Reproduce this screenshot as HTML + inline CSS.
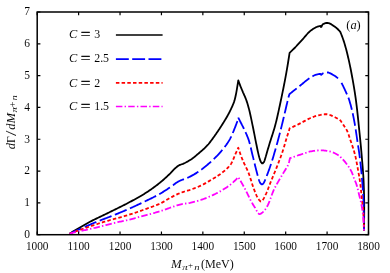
<!DOCTYPE html>
<html><head><meta charset="utf-8"><title>plot</title>
<style>
html,body{margin:0;padding:0;background:#fff;}
body{width:390px;height:273px;overflow:hidden;position:relative;font-family:"Liberation Serif",serif;}
</style></head><body>
<svg width="390" height="273" viewBox="0 0 390 273" style="position:absolute;left:0;top:0;will-change:transform;opacity:0.999">
<rect x="0" y="0" width="390" height="273" fill="#fff"/>
<path d="M69.60 233.80L70.43 233.23L71.27 232.67L72.12 232.13L72.97 231.59L73.84 231.07L74.70 230.56L75.57 230.05L76.45 229.54L77.32 229.04L78.19 228.54L79.06 228.03L79.94 227.52L80.81 227.01L81.68 226.50L82.55 225.99L83.42 225.49L84.29 224.98L85.17 224.48L86.04 223.98L86.92 223.48L87.80 222.99L88.68 222.51L89.57 222.03L90.46 221.56L91.35 221.09L92.25 220.63L93.14 220.17L94.04 219.72L94.94 219.27L95.85 218.82L96.75 218.38L97.66 217.94L98.57 217.50L99.48 217.07L100.39 216.63L101.30 216.20L102.21 215.76L103.12 215.33L104.03 214.89L104.94 214.46L105.85 214.02L106.76 213.59L107.67 213.15L108.57 212.70L109.48 212.26L110.38 211.81L111.28 211.36L112.19 210.92L113.09 210.47L114.00 210.03L114.90 209.58L115.81 209.14L116.71 208.69L117.62 208.25L118.52 207.80L119.42 207.35L120.33 206.91L121.23 206.46L122.13 206.00L123.03 205.55L123.93 205.10L124.83 204.64L125.73 204.18L126.62 203.72L127.51 203.25L128.41 202.78L129.30 202.31L130.18 201.83L131.07 201.36L131.96 200.88L132.85 200.40L133.74 199.92L134.62 199.44L135.51 198.95L136.39 198.47L137.28 197.97L138.16 197.48L139.03 196.98L139.91 196.48L140.78 195.97L141.65 195.46L142.51 194.94L143.37 194.42L144.22 193.89L145.08 193.35L145.92 192.81L146.77 192.26L147.61 191.71L148.45 191.15L149.29 190.59L150.12 190.02L150.95 189.45L151.78 188.87L152.60 188.28L153.42 187.69L154.24 187.09L155.05 186.49L155.86 185.89L156.66 185.28L157.46 184.67L158.26 184.05L159.04 183.42L159.83 182.80L160.60 182.16L161.38 181.51L162.14 180.86L162.90 180.20L163.66 179.53L164.42 178.86L165.16 178.18L165.91 177.49L166.65 176.81L167.39 176.12L168.12 175.43L168.85 174.73L169.58 174.03L170.29 173.32L170.98 172.59L171.67 171.85L172.36 171.11L173.06 170.37L173.76 169.65L174.48 168.94L175.21 168.26L175.97 167.60L176.74 166.93L177.54 166.28L178.36 165.69L179.21 165.20L180.12 164.81L181.08 164.49L182.06 164.18L183.01 163.84L183.93 163.44L184.84 163.01L185.74 162.56L186.64 162.08L187.53 161.59L188.41 161.09L189.27 160.57L190.13 160.03L190.97 159.49L191.79 158.93L192.61 158.34L193.41 157.74L194.21 157.11L194.99 156.47L195.77 155.83L196.54 155.17L197.31 154.51L198.08 153.86L198.85 153.20L199.62 152.55L200.38 151.89L201.15 151.23L201.91 150.57L202.67 149.90L203.43 149.22L204.17 148.54L204.91 147.85L205.63 147.15L206.34 146.43L207.04 145.71L207.72 144.98L208.38 144.23L209.02 143.45L209.65 142.66L210.26 141.85L210.87 141.05L211.47 140.24L212.07 139.43L212.67 138.62L213.26 137.80L213.85 136.99L214.44 136.17L215.03 135.34L215.61 134.52L216.19 133.69L216.76 132.86L217.33 132.03L217.90 131.20L218.47 130.36L219.03 129.52L219.59 128.68L220.14 127.84L220.69 126.99L221.23 126.14L221.77 125.29L222.31 124.44L222.84 123.59L223.38 122.73L223.91 121.88L224.43 121.02L224.96 120.15L225.48 119.29L226.00 118.42L226.52 117.55L227.02 116.68L227.53 115.80L228.02 114.92L228.50 114.03L228.97 113.14L229.43 112.25L229.88 111.35L230.32 110.45L230.75 109.54L231.19 108.63L231.62 107.71L232.04 106.79L232.46 105.86L232.86 104.93L233.24 104.00L233.61 103.05L233.96 102.11L234.28 101.16L234.57 100.20L234.84 99.24L235.09 98.27L235.32 97.29L235.54 96.30L235.75 95.31L235.95 94.32L236.14 93.33L236.33 92.34L236.51 91.34L236.69 90.35L236.85 89.36L237.02 88.36L237.18 87.37L237.34 86.37L237.50 85.38L237.66 84.38L237.83 83.39L237.99 82.39L238.14 81.40L238.30 80.40L238.64 81.35L238.98 82.29L239.33 83.24L239.68 84.18L240.04 85.12L240.40 86.06L240.77 86.99L241.15 87.92L241.54 88.85L241.92 89.78L242.31 90.71L242.70 91.63L243.09 92.56L243.50 93.48L243.91 94.40L244.32 95.32L244.73 96.24L245.13 97.17L245.53 98.09L245.90 99.02L246.25 99.96L246.58 100.91L246.90 101.86L247.21 102.82L247.51 103.78L247.80 104.74L248.08 105.71L248.35 106.68L248.62 107.65L248.88 108.62L249.13 109.60L249.37 110.57L249.61 111.55L249.84 112.52L250.06 113.50L250.29 114.48L250.50 115.47L250.72 116.45L250.93 117.43L251.13 118.42L251.34 119.40L251.55 120.39L251.75 121.38L251.96 122.36L252.16 123.34L252.37 124.33L252.57 125.31L252.78 126.30L252.98 127.28L253.18 128.27L253.38 129.26L253.57 130.24L253.77 131.23L253.96 132.21L254.15 133.20L254.35 134.19L254.54 135.18L254.73 136.16L254.93 137.15L255.12 138.14L255.31 139.12L255.51 140.11L255.71 141.10L255.90 142.08L256.10 143.07L256.30 144.05L256.51 145.04L256.71 146.02L256.91 147.01L257.11 148.00L257.31 148.98L257.52 149.97L257.72 150.95L257.93 151.93L258.15 152.92L258.38 153.89L258.62 154.87L258.86 155.85L259.12 156.82L259.39 157.79L259.69 158.75L260.00 159.71L260.33 160.69L260.72 161.64L261.22 162.46L262.00 163.25L262.81 163.25L263.61 162.47L264.11 161.66L264.50 160.74L264.82 159.75L265.12 158.75L265.42 157.79L265.71 156.83L265.97 155.86L266.24 154.89L266.51 153.92L266.79 152.95L267.07 151.99L267.35 151.02L267.64 150.06L267.92 149.09L268.21 148.13L268.50 147.17L268.79 146.20L269.08 145.24L269.37 144.28L269.66 143.31L269.95 142.35L270.25 141.39L270.55 140.43L270.86 139.47L271.16 138.51L271.47 137.56L271.78 136.60L272.09 135.64L272.40 134.68L272.71 133.72L273.01 132.76L273.32 131.81L273.61 130.85L273.91 129.88L274.20 128.92L274.48 127.96L274.76 126.99L275.02 126.02L275.29 125.05L275.54 124.08L275.79 123.11L276.03 122.14L276.28 121.16L276.51 120.18L276.75 119.21L276.98 118.23L277.21 117.25L277.43 116.27L277.65 115.29L277.87 114.30L278.09 113.32L278.31 112.34L278.52 111.36L278.74 110.37L278.95 109.39L279.16 108.40L279.37 107.42L279.58 106.44L279.80 105.45L280.01 104.47L280.22 103.49L280.43 102.50L280.64 101.52L280.85 100.54L281.05 99.55L281.26 98.57L281.47 97.58L281.67 96.60L281.88 95.62L282.08 94.63L282.28 93.65L282.49 92.66L282.69 91.67L282.89 90.69L283.09 89.70L283.29 88.72L283.48 87.73L283.68 86.74L283.87 85.76L284.07 84.77L284.26 83.78L284.45 82.80L284.64 81.81L284.83 80.82L285.02 79.83L285.21 78.85L285.40 77.86L285.58 76.87L285.76 75.88L285.95 74.89L286.13 73.90L286.31 72.91L286.48 71.92L286.66 70.93L286.83 69.94L287.00 68.95L287.17 67.96L287.34 66.97L287.51 65.98L287.67 64.98L287.84 63.99L288.00 63.00L289.60 52.80L290.37 52.09L291.13 51.38L291.89 50.67L292.64 49.94L293.38 49.22L294.12 48.49L294.86 47.75L295.58 47.00L296.30 46.25L297.01 45.48L297.71 44.72L298.41 43.94L299.11 43.17L299.80 42.39L300.50 41.62L301.20 40.84L301.90 40.07L302.60 39.31L303.31 38.53L304.00 37.74L304.69 36.94L305.37 36.13L306.06 35.32L306.75 34.52L307.45 33.74L308.16 32.97L308.89 32.24L309.64 31.55L310.42 30.90L311.22 30.29L312.06 29.68L312.93 29.07L313.82 28.49L314.73 27.93L315.67 27.42L316.62 26.97L317.58 26.59L318.55 26.29L319.56 26.06L320.60 25.90L321.07 27.03L321.53 26.73L321.98 25.54L322.53 24.58L323.31 24.06L324.29 23.60L325.38 23.22L326.48 22.98L327.51 22.90L328.48 23.04L329.46 23.37L330.44 23.84L331.39 24.40L332.33 25.02L333.23 25.63L334.10 26.19L334.94 26.78L335.77 27.41L336.58 28.07L337.36 28.77L338.13 29.50L338.88 30.27L339.60 31.07L340.30 31.90L340.68 32.84L341.06 33.77L341.44 34.72L341.80 35.66L342.16 36.60L342.51 37.55L342.86 38.50L343.19 39.45L343.52 40.40L343.83 41.36L344.14 42.32L344.44 43.28L344.73 44.25L345.01 45.21L345.29 46.18L345.57 47.16L345.83 48.13L346.10 49.11L346.36 50.08L346.61 51.06L346.86 52.04L347.11 53.02L347.35 54.00L347.59 54.99L347.82 55.97L348.05 56.95L348.28 57.93L348.51 58.91L348.73 59.90L348.95 60.88L349.17 61.87L349.38 62.86L349.59 63.84L349.80 64.83L350.01 65.82L350.21 66.81L350.41 67.80L350.61 68.79L350.81 69.78L351.00 70.77L351.19 71.76L351.38 72.76L351.57 73.75L351.75 74.74L351.94 75.73L352.12 76.73L352.30 77.72L352.48 78.71L352.66 79.71L352.84 80.70L353.01 81.69L353.19 82.69L353.36 83.68L353.53 84.68L353.70 85.67L353.87 86.67L354.04 87.67L354.20 88.66L354.36 89.66L354.52 90.66L354.68 91.65L354.84 92.65L354.99 93.65L355.14 94.65L355.29 95.65L355.43 96.65L355.58 97.65L355.72 98.64L355.85 99.64L355.99 100.64L356.12 101.64L356.24 102.64L356.37 103.65L356.49 104.65L356.62 105.65L356.74 106.65L356.86 107.65L356.97 108.66L357.09 109.66L357.20 110.66L357.31 111.67L357.42 112.67L357.53 113.67L357.64 114.68L357.75 115.68L357.86 116.69L357.96 117.69L358.07 118.69L358.17 119.70L358.28 120.70L358.38 121.71L358.49 122.71L358.59 123.72L358.69 124.72L358.80 125.73L358.90 126.73L359.00 127.73L359.11 128.74L359.21 129.74L359.32 130.75L359.42 131.75L359.52 132.76L359.63 133.76L359.73 134.76L359.83 135.77L359.93 136.77L360.03 137.78L360.14 138.78L360.24 139.79L360.34 140.79L360.43 141.80L360.53 142.80L360.63 143.81L360.73 144.81L360.82 145.82L360.92 146.82L361.01 147.83L361.10 148.83L361.19 149.84L361.28 150.84L361.37 151.85L361.46 152.85L361.55 153.86L361.63 154.87L361.71 155.87L361.80 156.88L361.88 157.88L361.97 158.89L362.05 159.90L362.14 160.90L362.22 161.91L362.31 162.92L362.39 163.92L362.48 164.93L362.56 165.93L362.65 166.94L362.73 167.95L362.81 168.96L362.89 169.96L362.96 170.97L363.04 171.98L363.11 172.98L363.18 173.99L363.25 175.00L363.32 176.01L363.38 177.01L363.44 178.02L363.49 179.03L363.54 180.04L363.59 181.04L363.64 182.05L363.68 183.06L363.71 184.07L363.75 185.08L363.78 186.08L363.82 187.09L363.85 188.10L363.88 189.11L363.92 190.12L363.95 191.13L363.98 192.14L364.01 193.15L364.04 194.16L364.06 195.17L364.09 196.18L364.11 197.19L364.13 198.20L364.15 199.21L364.16 200.22L364.18 201.23L364.19 202.23L364.19 203.24L364.20 204.25L364.20 205.26L364.20 206.27L364.20 207.28L364.20 208.29L364.20 209.30L364.19 210.31L364.19 211.32L364.19 212.33L364.18 213.34L364.18 214.35L364.17 215.36L364.16 216.37L364.15 217.38L364.14 218.39L364.13 219.40L364.12 220.40L364.10 221.41L364.09 222.42L364.07 223.43L364.05 224.44L364.03 225.45L364.01 226.46L363.98 227.47L363.96 228.48L363.93 229.49L363.90 230.50" fill="none" stroke="#000" stroke-width="1.8" stroke-linejoin="round"/>
<path d="M69.60 233.80L70.50 233.34L71.40 232.89L72.30 232.46L73.21 232.03L74.12 231.61L75.04 231.19L75.96 230.78L76.88 230.37L77.80 229.97L78.72 229.56L79.64 229.16L80.56 228.75L81.48 228.35L82.40 227.95L83.32 227.54L84.24 227.14L85.16 226.73L86.09 226.33L87.01 225.93L87.93 225.53L88.85 225.13L89.78 224.73L90.70 224.34L91.63 223.94L92.55 223.55L93.48 223.16L94.41 222.77L95.34 222.38L96.26 222.00L97.19 221.61L98.13 221.23L99.06 220.86L99.99 220.48L100.93 220.12L101.86 219.75L102.80 219.40L103.74 219.04L104.69 218.69L105.63 218.34L106.57 217.99L107.52 217.64L108.46 217.28L109.40 216.93L110.33 216.56L111.27 216.19L112.20 215.82L113.14 215.45L114.07 215.07L115.00 214.70L115.93 214.32L116.87 213.94L117.80 213.56L118.73 213.18L119.66 212.79L120.58 212.40L121.51 212.02L122.44 211.63L123.37 211.23L124.29 210.84L125.22 210.44L126.14 210.05L127.06 209.65L127.98 209.25L128.90 208.84L129.82 208.44L130.74 208.03L131.66 207.62L132.58 207.21L133.49 206.79L134.41 206.37L135.32 205.95L136.24 205.53L137.15 205.11L138.06 204.69L138.97 204.26L139.88 203.83L140.79 203.40L141.70 202.97L142.61 202.53L143.51 202.10L144.42 201.66L145.32 201.23L146.23 200.79L147.13 200.35L148.04 199.91L148.95 199.47L149.85 199.03L150.76 198.59L151.66 198.14L152.56 197.70L153.46 197.25L154.36 196.79L155.26 196.33L156.15 195.87L157.03 195.40L157.92 194.92L158.79 194.43L159.66 193.93L160.53 193.43L161.40 192.92L162.26 192.40L163.12 191.88L163.97 191.35L164.82 190.81L165.67 190.27L166.52 189.72L167.36 189.16L168.20 188.61L169.03 188.05L169.87 187.48L170.70 186.91L171.52 186.34L172.35 185.77L173.16 185.17L173.95 184.55L174.75 183.92L175.54 183.31L176.36 182.72L177.20 182.18L178.07 181.67L178.96 181.20L179.86 180.76L180.78 180.36L181.72 180.00L182.67 179.66L183.62 179.33L184.58 179.00L185.52 178.66L186.46 178.29L187.37 177.89L188.28 177.47L189.19 177.03L190.09 176.58L190.99 176.12L191.88 175.65L192.77 175.16L193.64 174.66L194.52 174.15L195.38 173.64L196.24 173.11L197.08 172.58L197.92 172.04L198.76 171.48L199.58 170.91L200.40 170.33L201.22 169.73L202.03 169.13L202.83 168.51L203.62 167.89L204.41 167.26L205.19 166.63L205.97 165.99L206.74 165.35L207.51 164.71L208.27 164.05L209.04 163.40L209.80 162.73L210.55 162.06L211.31 161.39L212.05 160.71L212.80 160.02L213.53 159.33L214.26 158.63L214.98 157.92L215.70 157.21L216.41 156.50L217.10 155.77L217.79 155.05L218.47 154.31L219.14 153.57L219.80 152.83L220.46 152.07L221.12 151.31L221.77 150.54L222.42 149.77L223.07 148.98L223.71 148.19L224.34 147.40L224.97 146.59L225.58 145.78L226.18 144.97L226.76 144.14L227.34 143.31L227.89 142.48L228.43 141.63L228.96 140.78L229.46 139.93L229.94 139.07L230.40 138.19L230.85 137.30L231.29 136.40L231.71 135.49L232.12 134.57L232.52 133.64L232.91 132.70L233.30 131.77L233.68 130.83L234.06 129.89L234.43 128.95L234.80 128.01L235.17 127.07L235.54 126.14L235.91 125.20L236.27 124.26L236.61 123.31L236.93 122.36L237.23 121.40L237.50 120.44L237.75 119.47L237.99 118.49L238.20 117.50" fill="none" stroke="#0000ff" stroke-width="1.8" stroke-linejoin="round" stroke-dasharray="12.7 3.6" stroke-dashoffset="16.03"/>
<path d="M238.20 117.50L238.66 118.40L239.12 119.29L239.57 120.19L240.03 121.09L240.49 121.98L240.94 122.88L241.40 123.78L241.85 124.68L242.32 125.57L242.77 126.47L243.23 127.37L243.68 128.27L244.11 129.17L244.54 130.08L244.96 131.00L245.38 131.91L245.80 132.83L246.22 133.75L246.63 134.68L247.03 135.60L247.42 136.53L247.79 137.47L248.15 138.41L248.48 139.35L248.80 140.30L249.09 141.25L249.37 142.22L249.64 143.18L249.90 144.15L250.15 145.13L250.40 146.10L250.63 147.08L250.87 148.06L251.10 149.05L251.32 150.03L251.55 151.02L251.78 152.00L252.01 152.98L252.24 153.96L252.49 154.94L252.73 155.92L252.98 156.90L253.22 157.87L253.46 158.85L253.70 159.83L253.94 160.81L254.17 161.78L254.41 162.76L254.65 163.74L254.89 164.72L255.13 165.70L255.37 166.67L255.61 167.65L255.86 168.63L256.10 169.60L256.35 170.58L256.61 171.55L256.86 172.53L257.12 173.50L257.39 174.47L257.65 175.44L257.92 176.41L258.19 177.38L258.46 178.36L258.74 179.33L259.06 180.28L259.41 181.22L259.80 182.17L260.28 183.07L260.91 183.83L261.79 184.39L262.69 184.05L263.42 183.35L263.96 182.50L264.42 181.57L264.85 180.66L265.24 179.73L265.61 178.79L265.98 177.86L266.34 176.92L266.71 175.98L267.07 175.04L267.43 174.10L267.79 173.16L268.14 172.22L268.49 171.27L268.83 170.33L269.18 169.38L269.51 168.43L269.85 167.48L270.18 166.53L270.50 165.58L270.83 164.63L271.14 163.67L271.46 162.72L271.76 161.76L272.07 160.80L272.37 159.84L272.66 158.88L272.95 157.91L273.24 156.95L273.53 155.98L273.81 155.02L274.09 154.05L274.37 153.08L274.65 152.12L274.93 151.15L275.21 150.18L275.48 149.21L275.76 148.24L276.03 147.28L276.31 146.31L276.58 145.34L276.85 144.37L277.12 143.40L277.39 142.43L277.66 141.46L277.92 140.49L278.19 139.52L278.45 138.55L278.71 137.57L278.97 136.60L279.23 135.63L279.48 134.65L279.73 133.68L279.99 132.71L280.23 131.73L280.48 130.75L280.72 129.78L280.97 128.80L281.21 127.82L281.45 126.85L281.69 125.87L281.93 124.89L282.17 123.91L282.40 122.94L282.64 121.96L282.87 120.98L283.11 120.00L283.34 119.02L283.57 118.04L283.81 117.06L284.04 116.08L284.27 115.10L284.50 114.12L284.73 113.14L284.96 112.16L285.19 111.18L285.42 110.20L285.65 109.22L285.88 108.24L286.11 107.26L286.34 106.28L286.57 105.31L286.81 104.33L287.04 103.35L287.27 102.37L287.51 101.39L287.75 100.41L287.98 99.43L288.22 98.46L288.46 97.48L288.70 96.50L289.40 94.20L290.21 93.54L291.03 92.88L291.85 92.22L292.66 91.57L293.48 90.91L294.30 90.26L295.12 89.60L295.94 88.95L296.76 88.30L297.58 87.65L298.40 87.00L299.22 86.35L300.05 85.70L300.87 85.05L301.68 84.39L302.50 83.71L303.31 83.04L304.12 82.36L304.93 81.68L305.74 81.02L306.57 80.36L307.40 79.72L308.24 79.10L309.09 78.51L309.95 77.94L310.84 77.40L311.74 76.84L312.65 76.29L313.58 75.76L314.53 75.28L315.49 74.87L316.47 74.56L317.47 74.33L318.49 74.14L319.54 73.99L320.60 73.90L321.14 74.89L321.83 74.30L322.66 73.52L323.61 73.11L324.66 72.75L325.74 72.51L326.80 72.40L327.80 72.48L328.81 72.72L329.82 73.10L330.82 73.58L331.80 74.13L332.75 74.69L333.68 75.25L334.58 75.79L335.45 76.35L336.31 76.97L337.15 77.62L337.97 78.32L338.77 79.05L339.54 79.81L340.30 80.60" fill="none" stroke="#0000ff" stroke-width="1.8" stroke-linejoin="round" stroke-dasharray="12.7 3.6" stroke-dashoffset="16.20"/>
<path d="M340.30 80.60L340.78 81.49L341.25 82.38L341.71 83.28L342.17 84.17L342.62 85.07L343.07 85.97L343.51 86.88L343.95 87.78L344.38 88.69L344.81 89.61L345.23 90.52L345.64 91.44L346.06 92.35L346.48 93.27L346.90 94.19L347.32 95.12L347.72 96.04L348.10 96.98L348.47 97.91L348.82 98.85L349.14 99.80L349.43 100.75L349.72 101.71L350.00 102.67L350.28 103.63L350.55 104.60L350.81 105.57L351.06 106.54L351.31 107.51L351.56 108.49L351.80 109.47L352.03 110.45L352.26 111.44L352.48 112.43L352.70 113.41L352.91 114.40L353.12 115.39L353.33 116.38L353.53 117.37L353.73 118.36L353.92 119.36L354.11 120.35L354.30 121.34L354.49 122.33L354.67 123.32L354.85 124.31L355.02 125.30L355.19 126.29L355.36 127.28L355.52 128.28L355.67 129.27L355.82 130.27L355.97 131.26L356.11 132.26L356.26 133.26L356.40 134.25L356.54 135.25L356.68 136.25L356.82 137.25L356.96 138.25L357.10 139.24L357.24 140.24L357.39 141.24L357.54 142.23L357.69 143.23L357.85 144.22L358.01 145.22L358.16 146.21L358.32 147.21L358.48 148.20L358.63 149.20L358.79 150.19L358.94 151.19L359.08 152.18L359.23 153.18L359.36 154.18L359.50 155.17L359.62 156.17L359.74 157.17L359.86 158.17L359.98 159.17L360.10 160.17L360.22 161.17L360.34 162.17L360.45 163.17L360.57 164.17L360.68 165.17L360.79 166.17L360.90 167.17L361.00 168.18L361.11 169.18L361.21 170.18L361.31 171.18L361.41 172.18L361.51 173.19L361.61 174.19L361.70 175.19L361.79 176.19L361.88 177.20L361.97 178.20L362.05 179.20L362.13 180.21L362.21 181.21L362.29 182.21L362.37 183.22L362.44 184.22L362.51 185.22L362.58 186.23L362.65 187.23L362.73 188.24L362.80 189.24L362.87 190.25L362.94 191.25L363.00 192.26L363.07 193.26L363.13 194.27L363.19 195.27L363.25 196.28L363.31 197.28L363.36 198.29L363.41 199.30L363.45 200.30L363.49 201.31L363.53 202.31L363.56 203.32L363.59 204.33L363.61 205.33L363.63 206.34L363.65 207.34L363.66 208.35L363.68 209.36L363.70 210.36L363.72 211.37L363.73 212.37L363.75 213.38L363.77 214.39L363.78 215.39L363.80 216.40L363.81 217.41L363.82 218.41L363.83 219.42L363.84 220.43L363.85 221.43L363.86 222.44L363.87 223.45L363.88 224.46L363.89 225.46L363.89 226.47L363.89 227.48L363.90 228.49L363.90 229.49L363.90 230.50" fill="none" stroke="#0000ff" stroke-width="1.8" stroke-linejoin="round" stroke-dasharray="12.7 3.6" stroke-dashoffset="13.78"/>
<path d="M69.60 233.80L70.53 233.40L71.46 233.02L72.39 232.65L73.33 232.29L74.27 231.94L75.22 231.59L76.17 231.25L77.12 230.91L78.07 230.58L79.02 230.24L79.97 229.91L80.92 229.58L81.87 229.25L82.82 228.91L83.77 228.58L84.72 228.25L85.67 227.92L86.62 227.59L87.57 227.26L88.52 226.93L89.48 226.61L90.43 226.28L91.38 225.96L92.34 225.64L93.29 225.31L94.25 225.00L95.20 224.68L96.16 224.36L97.12 224.05L98.07 223.74L99.03 223.43L99.99 223.13L100.95 222.82L101.91 222.52L102.87 222.22L103.83 221.93L104.80 221.64L105.76 221.36L106.73 221.07L107.70 220.79L108.66 220.52L109.63 220.25L110.60 219.97L111.57 219.70L112.54 219.44L113.51 219.17L114.49 218.90L115.46 218.63L116.43 218.37L117.40 218.10L118.37 217.83L119.34 217.57L120.31 217.30L121.28 217.03L122.25 216.75L123.22 216.48L124.19 216.20L125.15 215.92L126.12 215.63L127.08 215.34L128.05 215.05L129.01 214.75L129.97 214.45L130.92 214.15L131.88 213.84L132.84 213.53L133.79 213.21L134.75 212.89L135.70 212.57L136.66 212.24L137.61 211.91L138.56 211.59L139.51 211.25L140.46 210.92L141.41 210.58L142.36 210.25L143.31 209.91L144.26 209.57L145.20 209.23L146.15 208.89L147.10 208.55L148.05 208.22L149.01 207.88L149.96 207.54L150.91 207.21L151.86 206.86L152.81 206.52L153.76 206.17L154.70 205.81L155.64 205.45L156.57 205.08L157.50 204.69L158.42 204.30L159.34 203.90L160.25 203.48L161.15 203.04L162.03 202.58L162.91 202.10L163.79 201.60L164.66 201.09L165.52 200.57L166.39 200.05L167.26 199.53L168.13 199.01L169.00 198.51L169.88 198.02L170.77 197.55L171.66 197.08L172.55 196.60L173.44 196.13L174.34 195.66L175.24 195.21L176.14 194.76L177.05 194.34L177.97 193.93L178.89 193.54L179.83 193.17L180.77 192.82L181.72 192.48L182.67 192.15L183.63 191.82L184.58 191.51L185.55 191.21L186.51 190.92L187.48 190.64L188.44 190.35L189.41 190.06L190.36 189.75L191.31 189.42L192.26 189.08L193.21 188.74L194.15 188.38L195.09 188.02L196.03 187.65L196.97 187.27L197.90 186.88L198.82 186.48L199.74 186.08L200.66 185.66L201.56 185.23L202.46 184.79L203.36 184.34L204.25 183.87L205.14 183.39L206.02 182.90L206.89 182.40L207.77 181.89L208.64 181.38L209.51 180.87L210.37 180.35L211.24 179.84L212.10 179.32L212.97 178.81L213.84 178.29L214.71 177.77L215.57 177.24L216.43 176.70L217.29 176.16L218.13 175.61L218.97 175.05L219.79 174.48L220.60 173.89L221.39 173.29L222.17 172.67L222.97 172.04L223.76 171.39L224.56 170.74L225.35 170.07L226.12 169.39L226.88 168.69L227.62 167.98L228.33 167.25L229.01 166.51L229.65 165.75L230.25 164.98L230.80 164.20L231.31 163.38L231.79 162.53L232.24 161.66L232.67 160.75L233.08 159.83L233.48 158.89L233.87 157.94L234.25 156.98L234.63 156.03L235.01 155.08L235.40 154.13L235.81 153.20L236.22 152.29L236.64 151.37L237.06 150.45L237.47 149.53L237.89 148.62L238.30 147.70L238.60 148.67L238.90 149.63L239.21 150.60L239.53 151.56L239.85 152.52L240.18 153.47L240.51 154.42L240.86 155.37L241.20 156.32L241.56 157.27L241.91 158.21L242.28 159.15L242.66 160.08L243.05 161.01L243.46 161.93L243.88 162.85L244.31 163.76L244.75 164.68L245.19 165.59L245.64 166.50L246.08 167.41L246.52 168.32L246.95 169.24L247.37 170.15L247.78 171.07L248.18 172.00L248.56 172.93L248.92 173.87L249.26 174.82L249.59 175.77L249.91 176.73L250.23 177.69L250.53 178.65L250.83 179.62L251.13 180.59L251.43 181.55L251.72 182.52L252.02 183.49L252.33 184.45L252.64 185.41L252.96 186.37L253.29 187.32L253.64 188.27L253.99 189.21L254.35 190.17L254.71 191.13L255.07 192.09L255.44 193.04L255.83 193.99L256.24 194.92L256.67 195.83L257.12 196.71L257.61 197.56L258.17 198.46L258.82 199.47L259.53 200.42L260.24 201.15L260.90 201.49L261.52 201.36L262.14 200.86L262.75 200.10L263.35 199.14L263.92 198.07L264.48 196.96L264.99 195.90L265.47 194.96L265.92 194.07L266.35 193.17L266.75 192.26L267.14 191.33L267.52 190.39L267.89 189.44L268.24 188.49L268.60 187.54L268.95 186.58L269.30 185.63L269.65 184.68L270.01 183.73L270.39 182.78L270.76 181.85L271.15 180.91L271.53 179.98L271.92 179.05L272.30 178.11L272.69 177.18L273.07 176.25L273.46 175.31L273.84 174.38L274.23 173.45L274.61 172.51L275.00 171.58L275.38 170.64L275.75 169.70L276.13 168.77L276.50 167.83L276.87 166.89L277.24 165.95L277.61 165.01L277.97 164.07L278.34 163.12L278.70 162.18L279.06 161.24L279.42 160.30L279.78 159.35L280.14 158.40L280.49 157.46L280.84 156.51L281.19 155.56L281.53 154.61L281.86 153.66L282.19 152.70L282.52 151.75L282.83 150.79L283.14 149.83L283.44 148.87L283.73 147.90L284.02 146.93L284.30 145.96L284.58 144.99L284.86 144.02L285.14 143.05L285.41 142.08L285.69 141.11L285.97 140.13L286.26 139.17L286.55 138.20L286.84 137.23L287.15 136.27L287.46 135.31L287.79 134.36L288.12 133.40L288.46 132.45L288.80 131.50L289.60 128.40L290.57 127.96L291.53 127.52L292.49 127.07L293.45 126.62L294.41 126.17L295.37 125.71L296.32 125.25L297.28 124.79L298.23 124.32L299.18 123.86L300.13 123.39L301.08 122.91L302.02 122.42L302.95 121.91L303.88 121.40L304.81 120.89L305.75 120.39L306.68 119.89L307.62 119.40L308.57 118.93L309.53 118.49L310.50 118.05L311.47 117.63L312.46 117.22L313.44 116.83L314.44 116.48L315.45 116.16L316.46 115.87L317.48 115.59L318.52 115.34L319.55 115.10L320.60 114.90L321.68 114.63L322.74 114.43L323.81 114.30L324.86 114.23L325.90 114.20L326.94 114.23L327.97 114.39L329.00 114.65L330.02 114.99L331.04 115.40L332.04 115.85L333.04 116.32L334.02 116.79L334.99 117.25L335.94 117.70L336.88 118.20L337.80 118.73L338.71 119.29L339.61 119.89L340.50 120.50L341.05 121.36L341.60 122.21L342.16 123.06L342.72 123.91L343.28 124.75L343.85 125.60L344.42 126.44L345.01 127.27L345.62 128.09L346.17 128.94L346.62 129.83L347.05 130.73L347.45 131.66L347.83 132.59L348.20 133.54L348.55 134.51L348.88 135.47L349.21 136.45L349.53 137.42L349.85 138.40L350.16 139.38L350.48 140.35L350.81 141.32L351.13 142.28L351.46 143.24L351.79 144.20L352.11 145.17L352.44 146.13L352.76 147.10L353.07 148.07L353.38 149.04L353.68 150.01L353.98 150.99L354.26 151.96L354.54 152.94L354.80 153.92L355.05 154.90L355.29 155.89L355.52 156.87L355.74 157.86L355.95 158.86L356.16 159.85L356.35 160.85L356.55 161.85L356.74 162.85L356.92 163.85L357.10 164.85L357.28 165.86L357.46 166.86L357.64 167.86L357.82 168.86L358.00 169.86L358.18 170.86L358.37 171.86L358.55 172.86L358.73 173.86L358.91 174.87L359.09 175.87L359.26 176.87L359.43 177.87L359.59 178.88L359.75 179.88L359.90 180.88L360.05 181.89L360.19 182.90L360.32 183.90L360.44 184.91L360.56 185.92L360.67 186.93L360.78 187.94L360.89 188.95L361.00 189.96L361.10 190.97L361.20 191.99L361.30 193.00L361.40 194.01L361.50 195.02L361.60 196.04L361.70 197.05L361.80 198.06L361.90 199.07L362.01 200.08L362.12 201.09L362.24 202.10L362.37 203.11L362.50 204.12L362.63 205.13L362.75 206.14L362.88 207.15L363.00 208.16L363.10 209.18L363.20 210.19L363.29 211.20L363.36 212.21L363.41 213.22L363.46 214.24L363.50 215.25L363.55 216.27L363.59 217.28L363.63 218.29L363.67 219.31L363.70 220.33L363.74 221.34L363.77 222.36L363.80 223.37L363.82 224.39L363.85 225.41L363.87 226.43L363.88 227.44L363.89 228.46L363.90 229.48L363.90 230.50" fill="none" stroke="#ff0000" stroke-width="1.8" stroke-linejoin="round" stroke-dasharray="3.5 2.2"/>
<path d="M69.60 233.80L70.57 233.51L71.54 233.23L72.52 232.96L73.49 232.71L74.48 232.47L75.46 232.24L76.45 232.01L77.43 231.79L78.42 231.56L79.40 231.34L80.39 231.11L81.38 230.89L82.36 230.67L83.35 230.45L84.34 230.23L85.33 230.01L86.31 229.80L87.30 229.58L88.29 229.36L89.28 229.14L90.26 228.92L91.25 228.70L92.23 228.47L93.22 228.24L94.20 228.00L95.18 227.76L96.17 227.52L97.15 227.28L98.13 227.04L99.11 226.79L100.09 226.54L101.07 226.29L102.05 226.04L103.03 225.79L104.01 225.54L104.99 225.29L105.97 225.04L106.95 224.79L107.93 224.54L108.91 224.29L109.89 224.05L110.87 223.80L111.85 223.56L112.84 223.32L113.82 223.08L114.80 222.85L115.79 222.61L116.77 222.38L117.76 222.16L118.74 221.94L119.73 221.73L120.72 221.52L121.71 221.31L122.70 221.10L123.69 220.90L124.68 220.69L125.67 220.48L126.66 220.26L127.64 220.04L128.63 219.81L129.61 219.57L130.59 219.33L131.57 219.07L132.55 218.81L133.52 218.55L134.50 218.28L135.47 218.00L136.44 217.73L137.42 217.45L138.39 217.17L139.36 216.89L140.34 216.62L141.31 216.35L142.29 216.09L143.26 215.83L144.24 215.57L145.22 215.31L146.20 215.06L147.18 214.80L148.16 214.55L149.14 214.30L150.12 214.05L151.10 213.79L152.08 213.53L153.06 213.28L154.03 213.01L155.01 212.75L155.98 212.48L156.96 212.20L157.93 211.92L158.89 211.64L159.86 211.34L160.82 211.04L161.78 210.72L162.74 210.40L163.69 210.06L164.64 209.72L165.59 209.37L166.55 209.03L167.50 208.68L168.45 208.34L169.40 208.01L170.36 207.68L171.32 207.35L172.28 207.01L173.23 206.67L174.19 206.33L175.14 205.99L176.10 205.66L177.07 205.34L178.03 205.04L179.00 204.77L179.97 204.52L180.95 204.30L181.94 204.11L182.94 203.94L183.94 203.78L184.94 203.64L185.94 203.49L186.95 203.35L187.95 203.20L188.95 203.04L189.95 202.87L190.94 202.67L191.92 202.46L192.91 202.23L193.89 201.99L194.87 201.73L195.85 201.47L196.82 201.19L197.80 200.90L198.77 200.61L199.73 200.31L200.69 200.00L201.65 199.69L202.60 199.36L203.55 199.01L204.50 198.66L205.44 198.29L206.39 197.91L207.32 197.53L208.26 197.13L209.19 196.73L210.11 196.33L211.04 195.92L211.96 195.50L212.88 195.08L213.79 194.65L214.71 194.21L215.62 193.77L216.52 193.31L217.43 192.85L218.32 192.38L219.21 191.90L220.10 191.41L220.97 190.91L221.84 190.40L222.71 189.88L223.57 189.35L224.43 188.81L225.29 188.27L226.14 187.71L226.98 187.14L227.82 186.56L228.64 185.97L229.46 185.36L230.26 184.75L231.05 184.12L231.82 183.49L232.57 182.83L233.32 182.16L234.05 181.47L234.77 180.76L235.48 180.04L236.18 179.30L236.86 178.54L237.54 177.78L238.20 177.00L238.73 177.87L239.25 178.74L239.77 179.61L240.29 180.48L240.80 181.36L241.31 182.24L241.81 183.12L242.31 184.00L242.81 184.88L243.30 185.77L243.79 186.65L244.28 187.54L244.76 188.43L245.23 189.33L245.70 190.23L246.15 191.13L246.60 192.04L247.05 192.96L247.49 193.87L247.93 194.79L248.37 195.70L248.81 196.61L249.25 197.53L249.70 198.44L250.16 199.34L250.62 200.24L251.10 201.13L251.59 202.02L252.08 202.91L252.58 203.79L253.10 204.67L253.62 205.54L254.15 206.40L254.69 207.26L255.24 208.11L255.79 209.09L256.35 210.16L256.93 211.24L257.51 212.26L258.12 213.13L258.74 213.76L259.39 214.08L260.09 214.03L260.87 213.68L261.70 213.12L262.56 212.39L263.40 211.56L264.19 210.69L264.91 209.83L265.51 209.05L266.05 208.28L266.57 207.48L267.05 206.64L267.51 205.79L267.95 204.90L268.37 204.00L268.77 203.07L269.16 202.13L269.54 201.17L269.91 200.21L270.27 199.23L270.62 198.24L270.98 197.26L271.33 196.27L271.68 195.28L272.05 194.29L272.41 193.31L272.79 192.34L273.18 191.38L273.59 190.43L274.01 189.50L274.45 188.59L274.91 187.69L275.38 186.79L275.85 185.90L276.33 185.01L276.82 184.12L277.31 183.23L277.81 182.35L278.32 181.47L278.83 180.59L279.34 179.71L279.85 178.83L280.37 177.96L280.88 177.09L281.40 176.21L281.92 175.34L282.44 174.47L282.97 173.61L283.51 172.75L284.04 171.89L284.58 171.03L285.11 170.16L285.63 169.29L286.16 168.42L286.70 167.55L287.23 166.67L287.72 165.79L288.15 164.88L288.50 163.95L288.81 162.99L289.08 162.00L289.30 161.00L290.00 158.20L290.96 157.85L291.92 157.50L292.88 157.16L293.84 156.82L294.81 156.49L295.77 156.16L296.74 155.83L297.71 155.51L298.68 155.19L299.65 154.87L300.62 154.56L301.59 154.24L302.56 153.94L303.53 153.63L304.51 153.31L305.48 152.98L306.45 152.65L307.43 152.32L308.40 152.02L309.39 151.74L310.37 151.49L311.36 151.29L312.36 151.13L313.36 150.98L314.37 150.84L315.39 150.70L316.41 150.58L317.43 150.48L318.45 150.39L319.47 150.33L320.49 150.30L321.50 150.31L322.52 150.35L323.55 150.44L324.57 150.55L325.60 150.70L326.61 150.86L327.62 151.04L328.62 151.24L329.60 151.44L330.57 151.65L331.53 151.93L332.48 152.25L333.42 152.62L334.36 153.03L335.28 153.49L336.20 153.98L337.11 154.49L338.01 155.04L338.90 155.60L339.66 156.28L340.41 156.98L341.15 157.69L341.87 158.40L342.58 159.13L343.27 159.87L343.94 160.63L344.60 161.39L345.23 162.16L345.85 162.95L346.47 163.75L347.07 164.57L347.67 165.39L348.26 166.23L348.83 167.08L349.39 167.94L349.92 168.81L350.44 169.68L350.93 170.57L351.39 171.46L351.83 172.36L352.23 173.28L352.59 174.22L352.93 175.18L353.26 176.14L353.59 177.10L353.93 178.06L354.30 179.01L354.69 179.95L355.09 180.88L355.48 181.81L355.87 182.75L356.23 183.70L356.55 184.65L356.84 185.62L357.11 186.59L357.38 187.56L357.62 188.55L357.86 189.53L358.10 190.52L358.33 191.51L358.56 192.50L358.80 193.48L359.04 194.47L359.29 195.45L359.54 196.43L359.80 197.41L360.05 198.40L360.29 199.38L360.53 200.36L360.75 201.35L360.97 202.34L361.17 203.33L361.37 204.32L361.56 205.32L361.75 206.31L361.93 207.31L362.10 208.31L362.26 209.31L362.41 210.31L362.55 211.32L362.68 212.32L362.80 213.32L362.92 214.33L363.03 215.34L363.14 216.34L363.25 217.35L363.34 218.36L363.43 219.37L363.50 220.38L363.57 221.39L363.62 222.40L363.67 223.41L363.72 224.42L363.76 225.44L363.80 226.45L363.84 227.46L363.87 228.47L363.89 229.49L363.90 230.50" fill="none" stroke="#ff00ff" stroke-width="1.8" stroke-linejoin="round" stroke-dasharray="6.5 2.2 1.4 2.2"/>
<rect x="37.2" y="12.0" width="331.3" height="222.7" fill="none" stroke="#000" stroke-width="1.5"/>
<path d="M37.20 234.7v-3.2M37.20 12.0v3.2M78.61 234.7v-3.2M78.61 12.0v3.2M120.03 234.7v-3.2M120.03 12.0v3.2M161.44 234.7v-3.2M161.44 12.0v3.2M202.85 234.7v-3.2M202.85 12.0v3.2M244.26 234.7v-3.2M244.26 12.0v3.2M285.68 234.7v-3.2M285.68 12.0v3.2M327.09 234.7v-3.2M327.09 12.0v3.2M368.50 234.7v-3.2M368.50 12.0v3.2M37.2 234.70h3.2M368.5 234.70h-3.2M37.2 202.89h3.2M368.5 202.89h-3.2M37.2 171.07h3.2M368.5 171.07h-3.2M37.2 139.26h3.2M368.5 139.26h-3.2M37.2 107.44h3.2M368.5 107.44h-3.2M37.2 75.63h3.2M368.5 75.63h-3.2M37.2 43.81h3.2M368.5 43.81h-3.2M37.2 12.00h3.2M368.5 12.00h-3.2" stroke="#000" stroke-width="1.2" fill="none"/>
<path d="M115.9 35.0H162.6" stroke="#000" stroke-width="1.7" fill="none"/>
<path d="M115.9 59.1H162.6" stroke="#0000ff" stroke-width="1.7" fill="none" stroke-dasharray="12.9 3.4"/>
<path d="M115.9 82.8H162.6" stroke="#ff0000" stroke-width="1.7" fill="none" stroke-dasharray="3.5 2.2"/>
<path d="M115.9 106.5H162.6" stroke="#ff00ff" stroke-width="1.7" fill="none" stroke-dasharray="6.5 2.2 1.4 2.2"/>
<g font-family="Liberation Serif, serif" stroke="#fff" stroke-width="0.04">
<text transform="translate(37.20,249.90) scale(0.96,1.0)" font-size="11.8" text-anchor="middle" fill="#000">1000</text>
<text transform="translate(78.61,249.90) scale(0.96,1.0)" font-size="11.8" text-anchor="middle" fill="#000">1100</text>
<text transform="translate(120.03,249.90) scale(0.96,1.0)" font-size="11.8" text-anchor="middle" fill="#000">1200</text>
<text transform="translate(161.44,249.90) scale(0.96,1.0)" font-size="11.8" text-anchor="middle" fill="#000">1300</text>
<text transform="translate(202.85,249.90) scale(0.96,1.0)" font-size="11.8" text-anchor="middle" fill="#000">1400</text>
<text transform="translate(244.26,249.90) scale(0.96,1.0)" font-size="11.8" text-anchor="middle" fill="#000">1500</text>
<text transform="translate(285.68,249.90) scale(0.96,1.0)" font-size="11.8" text-anchor="middle" fill="#000">1600</text>
<text transform="translate(327.09,249.90) scale(0.96,1.0)" font-size="11.8" text-anchor="middle" fill="#000">1700</text>
<text transform="translate(368.50,249.90) scale(0.96,1.0)" font-size="11.8" text-anchor="middle" fill="#000">1800</text>
<text transform="translate(29.90,238.10) scale(0.95,1.0)" font-size="12.1" text-anchor="end" fill="#000">0</text>
<text transform="translate(29.90,206.29) scale(0.95,1.0)" font-size="12.1" text-anchor="end" fill="#000">1</text>
<text transform="translate(29.90,174.47) scale(0.95,1.0)" font-size="12.1" text-anchor="end" fill="#000">2</text>
<text transform="translate(29.90,142.66) scale(0.95,1.0)" font-size="12.1" text-anchor="end" fill="#000">3</text>
<text transform="translate(29.90,110.84) scale(0.95,1.0)" font-size="12.1" text-anchor="end" fill="#000">4</text>
<text transform="translate(29.90,79.03) scale(0.95,1.0)" font-size="12.1" text-anchor="end" fill="#000">5</text>
<text transform="translate(29.90,47.21) scale(0.95,1.0)" font-size="12.1" text-anchor="end" fill="#000">6</text>
<text transform="translate(29.90,15.40) scale(0.95,1.0)" font-size="12.1" text-anchor="end" fill="#000">7</text>
<text transform="translate(69.00,37.90)" font-size="12.4" font-style="italic" fill="#000">C</text>
<text transform="translate(80.80,38.85) scale(1.38,1.15)" font-size="12.4" fill="#000" stroke="#000" stroke-width="0.25">=</text>
<text transform="translate(94.20,37.90) scale(0.96,1.0)" font-size="12.4" fill="#000">3</text>
<text transform="translate(69.00,62.40)" font-size="12.4" font-style="italic" fill="#000">C</text>
<text transform="translate(80.80,63.35) scale(1.38,1.15)" font-size="12.4" fill="#000" stroke="#000" stroke-width="0.25">=</text>
<text transform="translate(94.20,62.40) scale(0.96,1.0)" font-size="12.4" fill="#000">2.5</text>
<text transform="translate(69.00,86.60)" font-size="12.4" font-style="italic" fill="#000">C</text>
<text transform="translate(80.80,87.55) scale(1.38,1.15)" font-size="12.4" fill="#000" stroke="#000" stroke-width="0.25">=</text>
<text transform="translate(94.20,86.60) scale(0.96,1.0)" font-size="12.4" fill="#000">2</text>
<text transform="translate(69.00,110.30)" font-size="12.4" font-style="italic" fill="#000">C</text>
<text transform="translate(80.80,111.25) scale(1.38,1.15)" font-size="12.4" fill="#000" stroke="#000" stroke-width="0.25">=</text>
<text transform="translate(94.20,110.30) scale(0.96,1.0)" font-size="12.4" fill="#000">1.5</text>
<text transform="translate(346.30,29.20)" font-size="12.4" fill="#000">(</text>
<text transform="translate(350.60,29.20)" font-size="12.4" font-style="italic" fill="#000">a</text>
<text transform="translate(356.60,29.20)" font-size="12.4" fill="#000">)</text>
<text transform="translate(171.00,267.90) scale(1.03,1.0)" font-size="12.4" font-style="italic" fill="#000">M</text>
<text transform="translate(182.30,269.60) scale(1.3,1.0)" font-size="8.6" font-style="italic" fill="#000">π</text>
<text transform="translate(188.00,268.30)" font-size="9.0" fill="#000">+</text>
<text transform="translate(194.30,269.60) scale(1.25,1.0)" font-size="8.6" font-style="italic" fill="#000">n</text>
<text transform="translate(201.00,267.90) scale(0.975,1.0)" font-size="12.4" fill="#000">(MeV)</text>
<text transform="translate(14.60,149.20) rotate(-90)" font-size="12.4" font-style="italic" fill="#000">d</text>
<text transform="translate(14.60,142.90) rotate(-90) scale(0.95,1.0)" font-size="12.4" fill="#000">Γ</text>
<text transform="translate(15.90,135.90) rotate(-90) scale(1.25,1.0)" font-size="15.5" fill="#000">/</text>
<text transform="translate(14.60,129.80) rotate(-90)" font-size="12.4" font-style="italic" fill="#000">d</text>
<text transform="translate(14.60,123.60) rotate(-90) scale(1.03,1.0)" font-size="12.4" font-style="italic" fill="#000">M</text>
<text transform="translate(17.40,112.50) rotate(-90) scale(1.3,1.0)" font-size="8.6" font-style="italic" fill="#000">π</text>
<text transform="translate(16.10,107.20) rotate(-90)" font-size="10.0" fill="#000">+</text>
<text transform="translate(17.40,100.50) rotate(-90) scale(1.25,1.0)" font-size="8.6" font-style="italic" fill="#000">n</text>
</g>
</svg>
</body></html>
